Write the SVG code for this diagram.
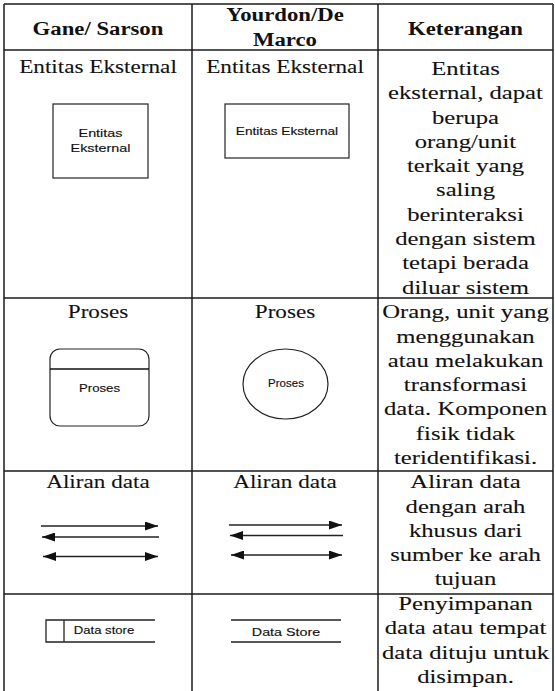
<svg xmlns="http://www.w3.org/2000/svg" width="555" height="691" viewBox="0 0 555 691">
  <defs>
    <style>
      .grid { stroke: #1a1a1a; stroke-width: 1.5; fill: none; }
      .hd { font-family: "Liberation Serif", "Times New Roman", serif; font-weight: bold; font-size: 18.5px; fill: #111; text-anchor: middle; }
      .tx { font-family: "Liberation Serif", "Times New Roman", serif; font-size: 19px; fill: #111; stroke: #111; stroke-width: 0.1; text-anchor: middle; }
      .sym { fill: #fff; stroke: #222; stroke-width: 1.2; }
      .lbl { font-family: "Liberation Sans", Arial, sans-serif; fill: #111; stroke: #111; stroke-width: 0.15; text-anchor: middle; }
      .flow { stroke: #222; stroke-width: 1.4; fill: none; }
    </style>
    <marker id="head" markerUnits="userSpaceOnUse" markerWidth="13" markerHeight="9" refX="13" refY="4.5" orient="auto-start-reverse">
      <path d="M0,0 L13,4.5 L0,9 Z" fill="#111"/>
    </marker>
  </defs>

  <rect width="555" height="691" fill="#fff"/>

  <!-- table grid -->
  <g id="table" class="grid">
    <line x1="4" y1="4" x2="553" y2="4"/>
    <line x1="4" y1="50" x2="553" y2="50"/>
    <line x1="4" y1="298" x2="553" y2="298"/>
    <line x1="4" y1="471" x2="553" y2="471"/>
    <line x1="4" y1="594" x2="553" y2="594"/>
    <line x1="4" y1="4" x2="4" y2="691"/>
    <line x1="192" y1="4" x2="192" y2="691"/>
    <line x1="378" y1="4" x2="378" y2="691"/>
    <line x1="553" y1="4" x2="553" y2="691"/>
  </g>

  <!-- header row -->
  <g id="header">
    <text class="hd" transform="translate(98,0) scale(1.23,1)" x="0" y="35">Gane/ Sarson</text>
    <text class="hd" transform="translate(285,0) scale(1.23,1)" x="0" y="21">Yourdon/De</text>
    <text class="hd" transform="translate(285,0) scale(1.23,1)" x="0" y="46">Marco</text>
    <text class="hd" transform="translate(465.5,0) scale(1.23,1)" x="0" y="35">Keterangan</text>
  </g>

  <!-- row 1: external entity -->
  <g id="entitas-gs">
    <text class="tx" transform="translate(98,0) scale(1.22,1)" x="0" y="73">Entitas Eksternal</text>
    <rect class="sym" x="53" y="104" width="95" height="74"/>
    <g class="lbl" font-size="11.5" transform="translate(100.5,0) scale(1.25,1)">
      <text x="0" y="137">Entitas</text>
      <text x="0" y="152">Eksternal</text>
    </g>
  </g>
  <g id="entitas-yd">
    <text class="tx" transform="translate(285,0) scale(1.22,1)" x="0" y="73">Entitas Eksternal</text>
    <rect class="sym" x="225" y="104" width="124" height="54"/>
    <text class="lbl" font-size="10.5" transform="translate(287,0) scale(1.3,1)" x="0" y="135">Entitas Eksternal</text>
  </g>
  <g id="ket-entitas" class="tx" transform="translate(465.5,0) scale(1.3,1)">
    <text x="0" y="75">Entitas</text>
    <text x="0" y="99.3">eksternal, dapat</text>
    <text x="0" y="123.6">berupa</text>
    <text x="0" y="147.9">orang/unit</text>
    <text x="0" y="172.2">terkait yang</text>
    <text x="0" y="196.5">saling</text>
    <text x="0" y="220.8">berinteraksi</text>
    <text x="0" y="245.1">dengan sistem</text>
    <text x="0" y="269.4">tetapi berada</text>
    <text x="0" y="293.7">diluar sistem</text>
  </g>

  <!-- row 2: process -->
  <g id="proses-gs">
    <text class="tx" transform="translate(98,0) scale(1.22,1)" x="0" y="318">Proses</text>
    <rect class="sym" x="50" y="349" width="99" height="77" rx="10" ry="10" stroke="#444"/>
    <line x1="50" y1="369" x2="149" y2="369" stroke="#111" stroke-width="1.3"/>
    <text class="lbl" font-size="11.5" transform="translate(99.5,0) scale(1.15,1)" x="0" y="392">Proses</text>
  </g>
  <g id="proses-yd">
    <text class="tx" transform="translate(285,0) scale(1.22,1)" x="0" y="318">Proses</text>
    <ellipse class="sym" cx="285.5" cy="384" rx="42.5" ry="35"/>
    <text class="lbl" font-size="10" transform="translate(286,0) scale(1.15,1)" x="0" y="387.5">Proses</text>
  </g>
  <g id="ket-proses" class="tx" transform="translate(465.5,0) scale(1.3,1)">
    <text x="0" y="318.3">Orang, unit yang</text>
    <text x="0" y="342.6">menggunakan</text>
    <text x="0" y="366.9">atau melakukan</text>
    <text x="0" y="391.2">transformasi</text>
    <text x="0" y="415.5">data. Komponen</text>
    <text x="0" y="439.8">fisik tidak</text>
    <text x="0" y="464.1">teridentifikasi.</text>
  </g>

  <!-- row 3: data flow -->
  <g id="aliran-gs">
    <text class="tx" transform="translate(98,0) scale(1.22,1)" x="0" y="488.5">Aliran data</text>
  </g>
  <g id="aliran-yd">
    <text class="tx" transform="translate(285,0) scale(1.22,1)" x="0" y="488.5">Aliran data</text>
  </g>
  <g id="connectors" class="flow">
    <line x1="41" y1="526" x2="158" y2="526" marker-end="url(#head)"/>
    <line x1="159" y1="537" x2="42" y2="537" marker-end="url(#head)"/>
    <line x1="43" y1="556.5" x2="158" y2="556.5" marker-start="url(#head)" marker-end="url(#head)"/>
    <line x1="229" y1="525" x2="342" y2="525" marker-end="url(#head)"/>
    <line x1="343" y1="535.5" x2="230" y2="535.5" marker-end="url(#head)"/>
    <line x1="231" y1="555" x2="342" y2="555" marker-start="url(#head)" marker-end="url(#head)"/>
  </g>
  <g id="ket-aliran" class="tx" transform="translate(465.5,0) scale(1.3,1)">
    <text x="0" y="488.3">Aliran data</text>
    <text x="0" y="512.6">dengan arah</text>
    <text x="0" y="536.9">khusus dari</text>
    <text x="0" y="561.2">sumber ke arah</text>
    <text x="0" y="585.5">tujuan</text>
  </g>

  <!-- row 4: data store -->
  <g id="store-gs">
    <path d="M155,620 H46 V642 H155 M64,620 V642" fill="none" stroke="#222" stroke-width="1.3"/>
    <text class="lbl" font-size="10.5" transform="translate(104,0) scale(1.25,1)" x="0" y="634">Data store</text>
  </g>
  <g id="store-yd">
    <path d="M231,620 H341 M231,642 H341" fill="none" stroke="#222" stroke-width="1.3"/>
    <text class="lbl" font-size="11" transform="translate(286,0) scale(1.3,1)" x="0" y="636">Data Store</text>
  </g>
  <g id="ket-store" class="tx" transform="translate(465.5,0) scale(1.3,1)">
    <text x="0" y="610">Penyimpanan</text>
    <text x="0" y="634.3">data atau tempat</text>
    <text x="0" y="658.6">data dituju untuk</text>
    <text x="0" y="682.9">disimpan.</text>
  </g>
</svg>
